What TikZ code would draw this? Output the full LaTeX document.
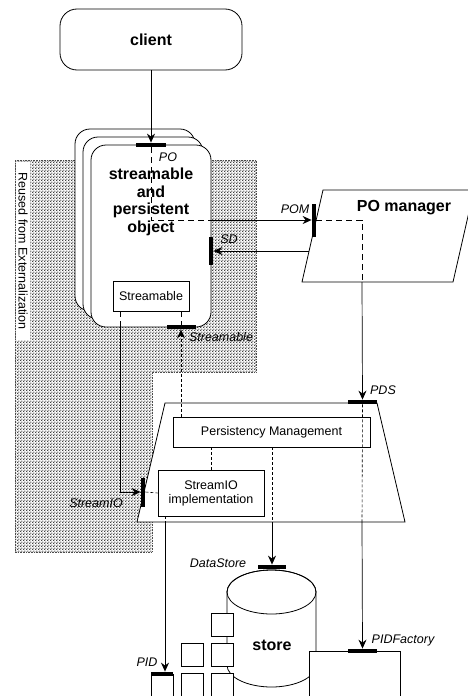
\documentclass[tikz,border=0pt]{standalone}
\usepackage{fontspec}
\setmainfont{Liberation Sans}
\usetikzlibrary{arrows.meta,patterns}

% fine staggered dot screen for the reused area
\pgfdeclarepatternformonly{stipple}{\pgfqpoint{-1pt}{-1pt}}{\pgfqpoint{2pt}{2pt}}{\pgfqpoint{3pt}{3pt}}%
{%
  \pgfpathcircle{\pgfqpoint{0pt}{0pt}}{.75pt}%
  \pgfpathcircle{\pgfqpoint{1.5pt}{1.5pt}}{.75pt}%
  \pgfusepath{fill}%
}

\begin{document}
\begin{tikzpicture}[x=1pt,y=-1pt,line width=0.8pt,
  >={Stealth[length=9pt,width=8pt,inset=3pt]},
  box/.style={draw,fill=white,inner sep=0pt,line width=0.8pt},
  objbox/.style={box,rounded corners=15pt,minimum width=120pt,minimum height=182pt},
  sq/.style={box,minimum width=22pt,minimum height=23pt},
  hport/.style={fill=black,inner sep=0pt,minimum width=30pt,minimum height=4pt},
  vport/.style={fill=black,inner sep=0pt,minimum width=4pt,minimum height=30pt},
  conn/.style={->,line width=0.7pt},
  dashin/.style={line width=0.7pt,dash pattern=on 6pt off 4pt},
  finedash/.style={line width=0.6pt,dash pattern=on 3pt off 2pt},
  lbl/.style={font=\fontsize{12.5}{14}\selectfont\itshape,inner sep=0pt},
  txt/.style={font=\fontsize{12.5}{14.5}\selectfont,align=center},
  btxt/.style={font=\fontsize{16}{17.5}\selectfont\bfseries,align=center,inner sep=0pt}]

\clip (0,0) rectangle (468,696);

% reused area (stippled)
\draw[pattern=stipple,pattern color=black,line width=0.6pt,
      densely dotted,draw=black!70]
  (15,160) -- (256,160) -- (256,372) -- (152,372) -- (152,552) -- (15,552) -- cycle;
\node[rotate=-90,fill=white,inner xsep=10pt,inner ysep=2pt,
      font=\fontsize{12.5}{14}\selectfont] (reuse) at (23,251) {Reused from Externalization};

% client
\node[box,rounded corners=17pt,minimum width=182pt,minimum height=61pt,btxt] (client) at (151,39.5) {client};

% stacked objects
\node[objbox] (objBack) at (135,220) {};
\node[objbox] (objMid) at (143,228) {};
\node[objbox] (obj) at (151,236) {};
\node[btxt] (objTxt) at (151,202) {streamable\\and\\persistent\\object};
\node[box,minimum width=76pt,minimum height=30pt,txt] (strbox) at (151,296) {Streamable};

% PO manager
\draw[fill=white] (323,190) -- (474,190) -- (453,282) -- (302,282) -- cycle;
\node[btxt] (pomTxt) at (404,208) {PO manager};

% persistency layer
\draw[fill=white] (165,403) -- (377,403) -- (405,522) -- (137,522) -- cycle;
\node[box,minimum width=197pt,minimum height=30pt,txt] (pm) at (271.5,432) {Persistency Management};
\node[box,minimum width=106pt,minimum height=46pt,txt,font=\fontsize{12.5}{14}\selectfont] (sio) at (211,493) {StreamIO\\implementation};

% store
\draw[fill=white] (227,592) -- (227,665) arc[start angle=180,end angle=0,x radius=44.5,y radius=22]
  -- (316,592) arc[start angle=0,end angle=-180,x radius=44.5,y radius=22] -- cycle;
\draw (271.5,592) ellipse[x radius=44.5,y radius=22];
\node[btxt] (storeTxt) at (272,645) {store};

% small squares
\node[sq] (sq1) at (222.5,624.5) {};
\node[sq] (sq2) at (222.5,654.5) {};
\node[sq] (sq3) at (222.5,684.5) {};
\node[sq] (sq4) at (192.5,654.5) {};
\node[sq] (sq5) at (192.5,684.5) {};

% PID and PID factory
\node[box,minimum width=22pt,minimum height=32pt] (pid) at (162,690) {};
\node[box,minimum width=91pt,minimum height=58pt] (pidf) at (354.5,680) {};

% ports
\node[hport] (pPO) at (151,145) {};
\node[vport,minimum height=33pt] (pPOM) at (314,220) {};
\node[vport,minimum height=28pt] (pSD) at (211,251) {};
\node[hport,minimum width=29pt] (pStr) at (181,327) {};
\node[vport,minimum height=29pt] (pSIO) at (143,492) {};
\node[hport,minimum width=29pt] (pPDS) at (362.5,402) {};
\node[hport,minimum width=28pt] (pDS) at (272,567) {};
\node[hport,minimum width=22pt] (pPID) at (162,674) {};
\node[hport,minimum width=29pt] (pPIDF) at (362.5,651) {};

% bend and exit points
\coordinate (poExit) at (211,220);
\coordinate (pomOut) at (362,282);
\coordinate (pomSD) at (309,251);
\coordinate (sLeft) at (120,327);
\coordinate (pmOutDS) at (272,522);
\coordinate (pmOutPF) at (362,522);
\coordinate (sioOut) at (165,522);

% connectors
\draw[conn] (client.south) -- (pPO.north);
\draw[dashin] (pPO.south) |- (poExit);
\draw[conn] (poExit) -- (pPOM.west);
\draw[dashin] (pPOM.east) -| (pomOut);
\draw[conn] (pomOut) -- (pPDS.north);
\draw[conn] (pomSD) -- (pSD.east);

\draw[dashin] (strbox.south -| pStr.center) -- (pStr.north);
\draw[finedash,->] (pm.north -| pStr.center) -- (pStr.south);
\draw[dashin] (strbox.south -| sLeft) -- (sLeft);
\draw[conn] (sLeft) |- (pSIO.west);
\draw[finedash] (pSIO.east) -- (sio.west);

\draw[finedash] (pm.south -| sio.north) -- (sio.north);
\draw[finedash] (pm.south -| pmOutDS) -- (pmOutDS);
\draw[conn] (pmOutDS) -- (pDS.north);
\draw[finedash] (pPDS.south) -- (pmOutPF);
\draw[conn] (pmOutPF) -- (pPIDF.north);
\draw[finedash] (sio.south -| sioOut) -- (sioOut);
\draw[conn] (sioOut) -- (sioOut |- pPID.north);

% port labels
\node[lbl] (lPO) at (168,157) {PO};
\node[lbl] (lPOM) at (295,209) {POM};
\node[lbl] (lSD) at (229,239) {SD};
\node[lbl] (lStr) at (221,337) {Streamable};
\node[lbl] (lPDS) at (383,390) {PDS};
\node[lbl] (lSIO) at (96,503) {StreamIO};
\node[lbl] (lDS) at (218,563) {DataStore};
\node[lbl] (lPID) at (147,662) {PID};
\node[lbl] (lPIDF) at (403,640) {PIDFactory};
\end{tikzpicture}
\end{document}
